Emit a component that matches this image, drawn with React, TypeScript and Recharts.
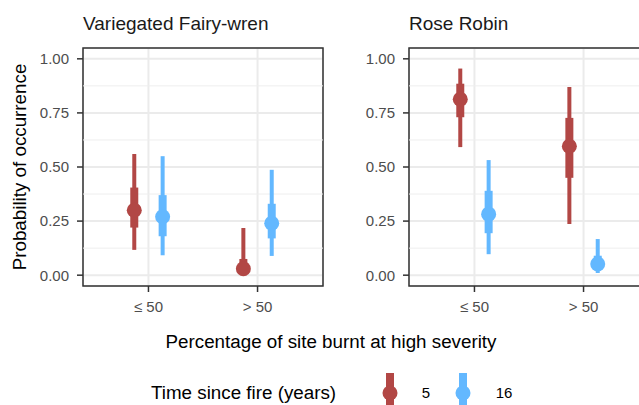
import React from "react";
import {
  ComposedChart,
  Line,
  Scatter,
  XAxis,
  YAxis,
  CartesianGrid,
  ReferenceLine,
  ReferenceArea,
} from "recharts";

const CATEGORIES = ["≤ 50", "> 50"];
const SERIES_NAMES = ["5", "16"];
const Y_TICKS = [0, 0.25, 0.5, 0.75, 1];
const Y_MINOR = [0.125, 0.375, 0.625, 0.875];

// Variegated Fairy-wren
const FW_MEDIAN_5 = [0.3, 0.03];
const FW_INNER_5 = [[0.22, 0.405], [0.008, 0.075]];
const FW_OUTER_5 = [[0.117, 0.56], [0.003, 0.218]];
const FW_MEDIAN_16 = [0.27, 0.24];
const FW_INNER_16 = [[0.18, 0.37], [0.17, 0.33]];
const FW_OUTER_16 = [[0.092, 0.55], [0.089, 0.487]];

// Rose Robin
const RR_MEDIAN_5 = [0.813, 0.596];
const RR_INNER_5 = [[0.73, 0.885], [0.45, 0.727]];
const RR_OUTER_5 = [[0.592, 0.955], [0.236, 0.87]];
const RR_MEDIAN_16 = [0.282, 0.052];
const RR_INNER_16 = [[0.194, 0.39], [0.03, 0.09]];
const RR_OUTER_16 = [[0.097, 0.532], [0.01, 0.167]];

const RED = "#B24745";
const BLUE = "#63B8FF";
const DODGE = 0.13;
const FONT = "'Liberation Sans', Arial, sans-serif";

type Series = {
  name: string;
  color: string;
  offset: number;
  median: number[];
  inner: number[][];
  outer: number[][];
};

function Panel({ left, series }: { left: number; series: Series[] }) {
  return (
    <div style={{ position: "absolute", left, top: 0 }}>
      <ComposedChart
        width={330}
        height={320}
        margin={{ top: 48, right: 7, bottom: 4, left: 0 }}
      >
        <CartesianGrid stroke="#EBEBEB" strokeWidth={2} />
        {Y_MINOR.map((y) => (
          <ReferenceLine key={y} y={y} stroke="#EEEEEE" strokeWidth={1} />
        ))}
        <XAxis
          type="number"
          dataKey="x"
          domain={[0.4, 2.6]}
          ticks={[1, 2]}
          interval={0}
          allowDataOverflow
          tickFormatter={(v: number) => CATEGORIES[v - 1]}
          axisLine={false}
          tickSize={6}
          tickMargin={9}
          tickLine={{ stroke: "#333333", strokeWidth: 1.5 }}
          tick={{ fill: "#4D4D4D", fontSize: 15, fontFamily: FONT }}
          height={30}
        />
        <YAxis
          type="number"
          dataKey="y"
          domain={[-0.05, 1.05]}
          ticks={Y_TICKS}
          interval={0}
          allowDataOverflow
          tickFormatter={(v: number) => v.toFixed(2)}
          axisLine={false}
          tickSize={6}
          tickMargin={8}
          tickLine={{ stroke: "#333333", strokeWidth: 1.5 }}
          tick={{ fill: "#4D4D4D", fontSize: 15, fontFamily: FONT }}
          width={83}
        />
        <ReferenceArea
          x1={0.4}
          x2={2.6}
          y1={-0.05}
          y2={1.05}
          fill="none"
          fillOpacity={0}
          stroke="#333333"
          strokeWidth={1.5}
        />
        {series.flatMap((s) =>
          CATEGORIES.flatMap((_, i) => {
            const x = i + 1 + s.offset;
            return [
              <Line
                key={`o-${s.name}-${i}`}
                data={[
                  { x, y: s.outer[i][0] },
                  { x, y: s.outer[i][1] },
                ]}
                dataKey="y"
                type="linear"
                stroke={s.color}
                strokeWidth={4}
                dot={false}
                activeDot={false}
                isAnimationActive={false}
              />,
              <Line
                key={`i-${s.name}-${i}`}
                data={[
                  { x, y: s.inner[i][0] },
                  { x, y: s.inner[i][1] },
                ]}
                dataKey="y"
                type="linear"
                stroke={s.color}
                strokeWidth={8}
                dot={false}
                activeDot={false}
                isAnimationActive={false}
              />,
            ];
          })
        )}
        {series.map((s) => (
          <Scatter
            key={`p-${s.name}`}
            data={s.median.map((y, i) => ({ x: i + 1 + s.offset, y }))}
            dataKey="y"
            fill={s.color}
            isAnimationActive={false}
            shape={(p: any) => (
              <circle cx={p.cx} cy={p.cy} r={7.5} fill={s.color} />
            )}
          />
        ))}
      </ComposedChart>
    </div>
  );
}

function LegendKey({ x, color }: { x: number; color: string }) {
  return (
    <g>
      <line x1={x} x2={x} y1={373} y2={415} stroke={color} strokeWidth={8} />
      <circle cx={x} cy={393} r={7.5} fill={color} />
    </g>
  );
}

export default function App() {
  const fairyWren: Series[] = [
    { name: SERIES_NAMES[0], color: RED, offset: -DODGE, median: FW_MEDIAN_5, inner: FW_INNER_5, outer: FW_OUTER_5 },
    { name: SERIES_NAMES[1], color: BLUE, offset: DODGE, median: FW_MEDIAN_16, inner: FW_INNER_16, outer: FW_OUTER_16 },
  ];
  const roseRobin: Series[] = [
    { name: SERIES_NAMES[0], color: RED, offset: -DODGE, median: RR_MEDIAN_5, inner: RR_INNER_5, outer: RR_OUTER_5 },
    { name: SERIES_NAMES[1], color: BLUE, offset: DODGE, median: RR_MEDIAN_16, inner: RR_INNER_16, outer: RR_OUTER_16 },
  ];

  return (
    <div
      style={{
        position: "absolute",
        left: 0,
        top: 0,
        width: 639,
        height: 405,
        overflow: "hidden",
        background: "#ffffff",
        fontFamily: FONT,
      }}
    >
      <Panel left={0} series={fairyWren} />
      <Panel left={326} series={roseRobin} />
      <svg
        width={639}
        height={405}
        style={{ position: "absolute", left: 0, top: 0, pointerEvents: "none" }}
        fontFamily={FONT}
      >
        <text x={83} y={30} fontSize={19} fill="#1A1A1A">
          Variegated Fairy-wren
        </text>
        <text x={409} y={30} fontSize={19} fill="#1A1A1A">
          Rose Robin
        </text>
        <text
          transform="translate(26,167) rotate(-90)"
          textAnchor="middle"
          fontSize={18.8}
          fill="#000000"
        >
          Probability of occurrence
        </text>
        <text x={331} y={348} textAnchor="middle" fontSize={18.8} fill="#000000">
          Percentage of site burnt at high severity
        </text>
        <text x={151} y={399} fontSize={18.8} fill="#000000">
          Time since fire (years)
        </text>
        <LegendKey x={390} color={RED} />
        <text x={426} y={398} textAnchor="middle" fontSize={15} fill="#000000">
          {SERIES_NAMES[0]}
        </text>
        <LegendKey x={463} color={BLUE} />
        <text x={504} y={398} textAnchor="middle" fontSize={15} fill="#000000">
          {SERIES_NAMES[1]}
        </text>
      </svg>
    </div>
  );
}
